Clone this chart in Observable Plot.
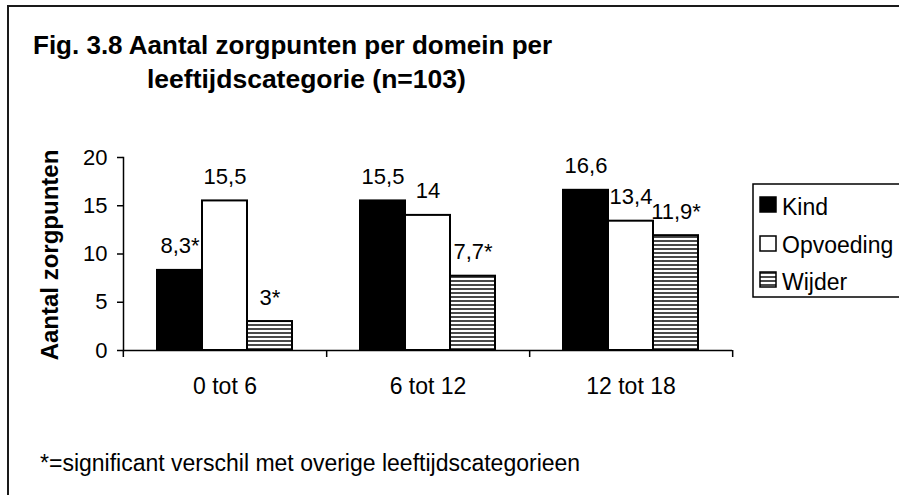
<!DOCTYPE html>
<html>
<head>
<meta charset="utf-8">
<script src="https://cdn.jsdelivr.net/npm/d3@7"></script>
<script src="https://cdn.jsdelivr.net/npm/@observablehq/plot@0.6"></script>
<style>
  html, body { margin: 0; padding: 0; background: white; }
  #wrap { position: relative; width: 899px; height: 495px; overflow: hidden; background: white; }
  #wrap > svg { position: absolute; left: 0; top: 0; }
  #overlay { pointer-events: none; }
</style>
</head>
<body>
<div id="wrap"></div>
<script>
// ---- data ----
const ages = ["0 tot 6", "6 tot 12", "12 tot 18"];
const domains = ["Kind", "Opvoeding", "Wijder"];
const kindValues = [8.3, 15.5, 16.6];
const opvoedingValues = [15.5, 14, 13.4];
const wijderValues = [3, 7.7, 11.9];
const kindLabels = ["8,3*", "15,5", "16,6"];
const opvoedingLabels = ["15,5", "14", "13,4"];
const wijderLabels = ["3*", "7,7*", "11,9*"];
const yTicks = [0, 5, 10, 15, 20];
const titleLines = ["Fig. 3.8 Aantal zorgpunten per domein per", "leeftijdscategorie (n=103)"];
const yTitle = "Aantal zorgpunten";
const caption = "*=significant verschil met overige leeftijdscategorieen";

const seriesValues = [kindValues, opvoedingValues, wijderValues];
const seriesLabels = [kindLabels, opvoedingLabels, wijderLabels];
const rows = [];
ages.forEach((age, i) => {
  domains.forEach((dom, j) => {
    rows.push({age, domain: dom, value: seriesValues[j][i], label: seriesLabels[j][i]});
  });
});

// ---- layout ----
const W = 899, H = 495;
const ml = 122, mr = 167, mt = 157, mb = 145;
const half = (W - ml - mr) / ages.length / 2;
const font = "'Liberation Sans', Arial, Helvetica, sans-serif";

const chart = Plot.plot({
  width: W,
  height: H,
  marginLeft: ml,
  marginRight: mr,
  marginTop: mt,
  marginBottom: mb,
  style: {fontFamily: font, fontSize: "22px", color: "black", background: "transparent", overflow: "visible"},
  fx: {domain: ages, padding: 0, label: null, axis: null},
  x: {domain: domains, paddingInner: 0, paddingOuter: 0.72, axis: null},
  y: {domain: [0, 20], axis: null},
  color: {type: "ordinal", domain: domains, range: ["black", "white", "url(#hatchW)"]},
  marks: [
    Plot.barY(rows, {fx: "age", x: "domain", y: "value", fill: "domain", stroke: "black", strokeWidth: 2}),
    Plot.ruleY([0], {stroke: "black", strokeWidth: 1.5}),
    Plot.frame({anchor: "left", facetAnchor: "left", stroke: "black", strokeWidth: 1.5}),
    Plot.axisY({ticks: yTicks, tickSize: 6, tickPadding: 10, fontSize: 22, label: null, stroke: "black", strokeWidth: 1.5}),
    Plot.axisFx({anchor: "bottom", tickSize: 0, tickPadding: 27, fontSize: 23, label: null}),
    Plot.axisFx({anchor: "bottom", tickSize: 7, dx: half, tickFormat: () => "", label: null, strokeWidth: 1.5}),
    Plot.axisFx({anchor: "bottom", ticks: [ages[0]], tickSize: 7, dx: -half, tickFormat: () => "", label: null, strokeWidth: 1.5}),
    Plot.text(rows, {fx: "age", x: "domain", y: "value", text: "label", dy: -24, fontSize: 22, fill: "black"})
  ]
});

const wrap = document.getElementById("wrap");
wrap.appendChild(chart);

// ---- overlay: frame, titles, caption, legend ----
const color = chart.scale("color");
const ov = d3.select(wrap).append("svg")
  .attr("id", "overlay")
  .attr("width", W).attr("height", H)
  .style("font-family", font);

const defs = ov.append("defs");
const pat = defs.append("pattern").attr("id", "hatchW")
  .attr("patternUnits", "userSpaceOnUse").attr("width", 4).attr("height", 4);
pat.append("rect").attr("width", 4).attr("height", 4).attr("fill", "white");
pat.append("rect").attr("width", 4).attr("height", 2).attr("fill", "#4a4a4a");

// outer border (left and top only visible)
ov.append("path").attr("d", `M8,${H} V6 H${W}`).attr("fill", "none").attr("stroke", "#1a1a1a").attr("stroke-width", 2);

// title
ov.append("text").attr("x", 33).attr("y", 54).attr("font-size", 26).attr("font-weight", "bold").text(titleLines[0]);
ov.append("text").attr("x", 147).attr("y", 88).attr("font-size", 26.5).attr("font-weight", "bold").text(titleLines[1]);

// y title
ov.append("text").attr("transform", "translate(58,255) rotate(-90)").attr("text-anchor", "middle")
  .attr("font-size", 24).attr("font-weight", "bold").text(yTitle);

// caption
ov.append("text").attr("x", 40).attr("y", 471).attr("font-size", 23).text(caption);

// legend
ov.append("rect").attr("x", 753).attr("y", 184).attr("width", 160).attr("height", 113)
  .attr("fill", "none").attr("stroke", "black").attr("stroke-width", 1.5);
const legY = [197, 236, 272];
const legBase = [215, 253, 290];
domains.forEach((d, i) => {
  ov.append("rect").attr("x", 760).attr("y", legY[i]).attr("width", 16).attr("height", 15)
    .attr("fill", color.apply(d)).attr("stroke", "black").attr("stroke-width", 1.5);
  ov.append("text").attr("x", 782).attr("y", legBase[i]).attr("font-size", 23).text(d);
});
</script>
</body>
</html>
